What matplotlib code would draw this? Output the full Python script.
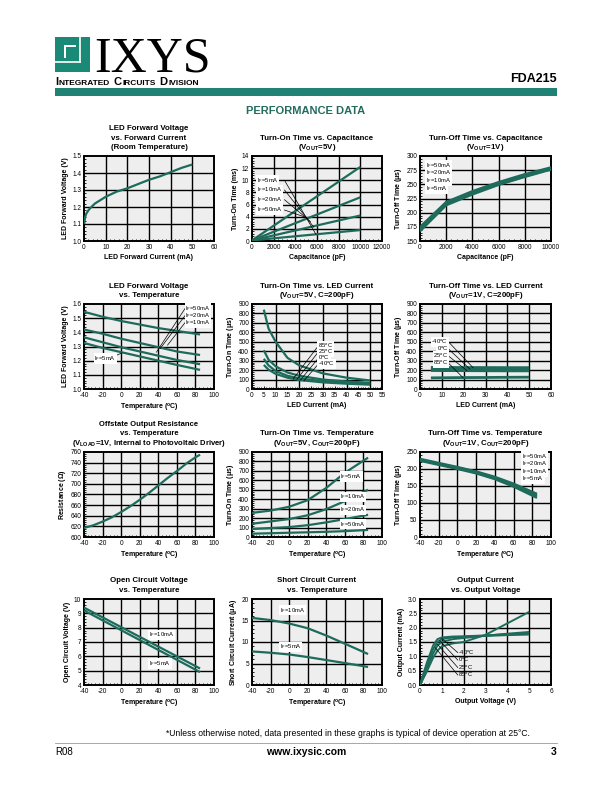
import numpy as np
import matplotlib
matplotlib.use('Agg')
import matplotlib.pyplot as plt
from matplotlib.patches import Rectangle
from matplotlib.ticker import AutoMinorLocator

plt.rcParams['font.family'] = ['Liberation Sans Narrow', 'Liberation Sans', 'DejaVu Sans']
plt.rcParams['mathtext.default'] = 'regular'
plt.rcParams['axes.unicode_minus'] = False

TEAL = '#1E6B5C'
BG = '#EEEEEE'

# --- data ---
# LED forward voltage vs forward current
vf_current = [0.1, 0.5, 1, 2, 3, 5, 10, 15, 20, 25, 30, 35, 40, 45, 50]
vf_volts = [1.10, 1.14, 1.16, 1.18, 1.195, 1.22, 1.26, 1.29, 1.31, 1.335, 1.36, 1.38, 1.405, 1.43, 1.45]

# turn-on time vs capacitance (ms)
ton_cap = [0, 10000]
ton_cap_5ma = [0.1, 12.2]
ton_cap_10ma = [0.1, 7.2]
ton_cap_20ma = [0.1, 4.2]
ton_cap_50ma = [0.1, 1.8]

# turn-off time vs capacitance (us)
toff_cap = [0, 1000, 2000, 4000, 6000, 8000, 10000]
toff_cap_50ma = [175, 197, 219, 238, 254, 268, 280]
toff_cap_20ma = [172, 195, 217, 236, 252, 266, 278]
toff_cap_10ma = [170, 193, 215, 234, 250, 264, 277]
toff_cap_5ma = [167, 190, 213, 232, 249, 263, 276]

# LED forward voltage vs temperature
temp = [-40, -20, 0, 20, 40, 60, 85]
vft_50ma = [1.545, 1.51, 1.48, 1.455, 1.43, 1.41, 1.385]
vft_20ma = [1.42, 1.39, 1.355, 1.325, 1.295, 1.265, 1.24]
vft_10ma = [1.365, 1.33, 1.295, 1.265, 1.235, 1.205, 1.175]
vft_5ma = [1.325, 1.29, 1.26, 1.23, 1.2, 1.17, 1.135]

# turn-on time vs LED current (us)
led_i = [5, 7, 10, 15, 20, 30, 40, 50]
ton_i_85c = [840, 640, 500, 330, 250, 165, 120, 90]
ton_i_25c = [410, 310, 240, 175, 140, 100, 80, 65]
ton_i_0c = [320, 250, 190, 140, 112, 82, 66, 55]
ton_i_m40c = [255, 205, 160, 120, 95, 70, 56, 46]

# turn-off time vs LED current (us)
led_i2 = [5, 10, 20, 30, 40, 50]
toff_i_m40c = [228, 228, 227, 227, 226, 226]
toff_i_0c = [210, 209, 208, 207, 206, 205]
toff_i_25c = [196, 195, 194, 193, 192, 192]
toff_i_85c = [118, 119, 121, 122, 124, 125]

# offstate output resistance vs temperature (ohm)
res_temp = [-40, -30, -20, -10, 0, 10, 20, 30, 40, 50, 60, 70, 80, 85]
res_ohm = [617, 622, 629, 637, 647, 658, 670, 683, 697, 711, 724, 738, 750, 755]

# turn-on time vs temperature (us)
ton_t_5ma = [255, 280, 320, 390, 520, 680, 840]
ton_t_10ma = [140, 165, 190, 230, 295, 380, 500]
ton_t_20ma = [85, 95, 105, 125, 155, 190, 235]
ton_t_50ma = [35, 40, 45, 50, 55, 62, 75]

# turn-off time vs temperature (us)
toff_t_50ma = [230, 218, 206, 193, 177, 157, 127]
toff_t_20ma = [228, 216, 204, 191, 175, 154, 123]
toff_t_10ma = [226, 214, 202, 189, 172, 151, 119]
toff_t_5ma = [224, 212, 200, 187, 170, 148, 115]

# open circuit voltage vs temperature (V)
voc_temp = [-40, 85]
voc_10ma = [9.4, 5.15]
voc_5ma = [9.2, 4.9]

# short circuit current vs temperature (uA)
isc_10ma = [15.6, 15.1, 14.3, 13.2, 11.5, 9.6, 7.2]
isc_5ma = [7.8, 7.5, 7.1, 6.5, 5.8, 5.1, 4.2]

# output current vs output voltage (mA)
vout = [0, 0.3, 0.6, 0.8, 1.0, 1.5, 2, 3, 4, 5]
iout_m40c = [0, 0.75, 1.38, 1.6, 1.66, 1.69, 1.7, 1.73, 1.77, 1.8]
iout_0c = [0, 0.65, 1.25, 1.5, 1.6, 1.66, 1.68, 1.71, 1.74, 1.76]
iout_25c = [0, 0.55, 1.1, 1.38, 1.5, 1.6, 1.64, 1.72, 1.79, 1.85]
iout_85c = [0, 0.45, 0.95, 1.2, 1.35, 1.45, 1.5, 1.75, 2.15, 2.55]

fig = plt.figure(figsize=(6.12, 7.92), dpi=100)
PX = 0.72  # points per pixel at 100 dpi


def px_axes(x0, y0, x1, y1):
    return fig.add_axes([x0 / 612, 1 - y1 / 792, (x1 - x0) / 612, (y1 - y0) / 792])


def style(ax, xlim, ylim, xticks, yticks, xgrid, ygrid, xlabel, ylabel, title, yfmt=None, tsize=5.7):
    ax.set_facecolor(BG)
    ax.set_xlim(xlim)
    ax.set_ylim(ylim)
    ax.set_xticks(xticks)
    ax.set_yticks(yticks)
    if yfmt:
        ax.set_yticklabels([yfmt.format(v) for v in yticks])
    for g in xgrid:
        ax.axvline(g, color='k', lw=1.0, zorder=1)
    for g in ygrid:
        ax.axhline(g, color='k', lw=1.0, zorder=1)
    ax.xaxis.set_minor_locator(AutoMinorLocator(5))
    ax.yaxis.set_minor_locator(AutoMinorLocator(5))
    ax.tick_params(which='both', direction='in', labelsize=4.7, pad=2, width=0.6)
    ax.tick_params(which='major', length=2)
    ax.tick_params(which='minor', length=1.2)
    for s in ax.spines.values():
        s.set_linewidth(1.4)
    ax.set_xlabel(xlabel, fontsize=5, fontweight='bold', labelpad=2)
    ax.set_ylabel(ylabel, fontsize=5, fontweight='bold', labelpad=2)
    # title lines stacked upward from the axes top, fixed pitch
    for k, line in enumerate(reversed(title)):
        ax.annotate(line, xy=(0.5, 1), xycoords='axes fraction',
                    xytext=(0, (8.5 + 9.5 * k) * PX), textcoords='offset points',
                    ha='center', va='center', fontsize=tsize, fontweight='bold')


def curve(ax, x, y, lw=1.6):
    ax.plot(x, y, color=TEAL, lw=lw, zorder=3, solid_capstyle='butt')


def lbl(ax, x, y, s, ha='left', box=False):
    kw = dict(fontsize=4.2, ha=ha, va='center', zorder=5)
    if box:
        kw['bbox'] = dict(facecolor='white', edgecolor='none', pad=0.5)
    ax.text(x, y, s, **kw)


def leader(ax, p0, p1):
    ax.plot([p0[0], p1[0]], [p0[1], p1[1]], color='k', lw=0.5, zorder=4)


IF = r'I$_F$='
COLS = [(84, 214), (252, 382), (420, 551)]
ROWS = [(156, 241), (304, 389), (452, 537), (599, 685)]

# ---------- row 1 ----------
ax = px_axes(COLS[0][0], ROWS[0][0], COLS[0][1], ROWS[0][1])
style(ax, (0, 60), (1.0, 1.5), range(0, 61, 10), np.arange(1.0, 1.51, 0.1),
      range(10, 60, 10), np.arange(1.1, 1.45, 0.1),
      'LED Forward Current (mA)', 'LED Forward Voltage (V)',
      ['LED Forward Voltage', 'vs. Forward Current', '(Room Temperature)'], yfmt='{:.1f}')
curve(ax, vf_current, vf_volts)

ax = px_axes(COLS[1][0], ROWS[0][0], COLS[1][1], ROWS[0][1])
style(ax, (0, 12000), (0, 14), range(0, 12001, 2000), range(0, 15, 2),
      range(2000, 12000, 2000), range(2, 14, 2),
      'Capacitance (pF)', 'Turn-On Time (ms)',
      ['Turn-On Time vs. Capacitance', r'(V$_{OUT}$=5V)'])
for yv in (ton_cap_5ma, ton_cap_10ma, ton_cap_20ma, ton_cap_50ma):
    curve(ax, ton_cap, yv)
for i, (s, yl) in enumerate(zip(['5mA', '10mA', '20mA', '50mA'], [10.0, 8.4, 6.8, 5.1])):
    lbl(ax, 450, yl, IF + s, box=True)
    leader(ax, (3000, yl), [(5900, 1.1), (5700, 2.3), (5400, 3.2), (4800, 4.0)][i])

ax = px_axes(COLS[2][0], ROWS[0][0], COLS[2][1], ROWS[0][1])
style(ax, (0, 10000), (150, 300), range(0, 10001, 2000), range(150, 301, 25),
      range(2000, 10000, 2000), range(175, 300, 25),
      'Capacitance (pF)', r'Turn-Off Time ($\mu$s)',
      ['Turn-Off Time vs. Capacitance', r'(V$_{OUT}$=1V)'])
for yv in (toff_cap_50ma, toff_cap_20ma, toff_cap_10ma, toff_cap_5ma):
    curve(ax, toff_cap, yv)
for s, yl in zip(['50mA', '20mA', '10mA', '5mA'], [284, 270, 256, 242]):
    lbl(ax, 450, yl, IF + s, box=True)

# ---------- row 2 ----------
ax = px_axes(COLS[0][0], ROWS[1][0], COLS[0][1], ROWS[1][1])
style(ax, (-40, 100), (1.0, 1.6), range(-40, 101, 20), np.arange(1.0, 1.61, 0.1),
      range(-20, 100, 20), np.arange(1.1, 1.55, 0.1),
      r'Temperature ($^o$C)', 'LED Forward Voltage (V)',
      ['LED Forward Voltage', 'vs. Temperature'], yfmt='{:.1f}')
for yv in (vft_50ma, vft_20ma, vft_10ma, vft_5ma):
    curve(ax, temp, yv)
for s, yl, end in zip(['50mA', '20mA', '10mA'], [1.57, 1.52, 1.47],
                      [(38, 1.26), (42, 1.285), (50, 1.31)]):
    lbl(ax, 69, yl, IF + s, box=True)
    leader(ax, (69, yl), end)
lbl(ax, -29, 1.215, IF + '5mA', box=True)
leader(ax, (-13, 1.215), (1, 1.255))

ax = px_axes(COLS[1][0], ROWS[1][0], COLS[1][1], ROWS[1][1])
style(ax, (0, 55), (0, 900), range(0, 56, 5), range(0, 901, 100),
      range(10, 55, 10), range(100, 900, 100),
      'LED Current (mA)', r'Turn-On Time ($\mu$s)',
      ['Turn-On Time vs. LED Current', r'(V$_{OUT}$=5V, C=200pF)'])
for yv in (ton_i_85c, ton_i_25c, ton_i_0c, ton_i_m40c):
    curve(ax, led_i, yv)
for s, yl, end in zip([r'85$^o$C', r'25$^o$C', r'0$^o$C', r'-40$^o$C'], [455, 390, 325, 262],
                      [(17.5, 110), (19, 102), (20.5, 95), (22, 88)]):
    lbl(ax, 28, yl, s, box=True)
    leader(ax, (28, yl), end)

ax = px_axes(COLS[2][0], ROWS[1][0], COLS[2][1], ROWS[1][1])
style(ax, (0, 60), (0, 900), range(0, 61, 10), range(0, 901, 100),
      range(10, 60, 10), range(100, 900, 100),
      'LED Current (mA)', r'Turn-Off Time ($\mu$s)',
      ['Turn-Off Time vs. LED Current', r'(V$_{OUT}$=1V, C=200pF)'])
for yv in (toff_i_m40c, toff_i_0c, toff_i_25c, toff_i_85c):
    curve(ax, led_i2, yv, lw=2.0)
for s, yl, end in zip([r'-40$^o$C', r'0$^o$C', r'25$^o$C', r'85$^o$C'], [500, 425, 350, 275],
                      [(24.3, 226), (22.9, 210), (21.5, 195), (19.7, 120)]):
    lbl(ax, 13, yl, s, ha='right', box=True)
    leader(ax, (13, yl), end)

# ---------- row 3 ----------
ax = px_axes(COLS[0][0], ROWS[2][0], COLS[0][1], ROWS[2][1])
style(ax, (-40, 100), (600, 760), range(-40, 101, 20), range(600, 761, 20),
      range(-20, 100, 20), range(620, 760, 20),
      r'Temperature ($^o$C)', r'Resistance ($\Omega$)',
      ['Offstate Output Resistance', 'vs. Temperature',
       r'(V$_{LOAD}$=1V, Internal to Photovoltaic Driver)'], tsize=5.5)
curve(ax, res_temp, res_ohm)

ax = px_axes(COLS[1][0], ROWS[2][0], COLS[1][1], ROWS[2][1])
style(ax, (-40, 100), (0, 900), range(-40, 101, 20), range(0, 901, 100),
      range(-20, 100, 20), range(100, 900, 100),
      r'Temperature ($^o$C)', r'Turn-On Time ($\mu$s)',
      ['Turn-On Time vs. Temperature', r'(V$_{OUT}$=5V, C$_{OUT}$=200pF)'])
for yv in (ton_t_5ma, ton_t_10ma, ton_t_20ma, ton_t_50ma):
    curve(ax, temp, yv)
for s, yl in zip(['5mA', '10mA', '20mA', '50mA'], [640, 427, 286, 134]):
    lbl(ax, 55, yl, IF + s, box=True)

ax = px_axes(COLS[2][0], ROWS[2][0], COLS[2][1], ROWS[2][1])
style(ax, (-40, 100), (0, 250), range(-40, 101, 20), range(0, 251, 50),
      range(-20, 100, 20), range(50, 250, 50),
      r'Temperature ($^o$C)', r'Turn-Off Time ($\mu$s)',
      ['Turn-Off Time vs. Temperature', r'(V$_{OUT}$=1V, C$_{OUT}$=200pF)'])
for yv in (toff_t_50ma, toff_t_20ma, toff_t_10ma, toff_t_5ma):
    curve(ax, temp, yv)
for s, yl in zip(['50mA', '20mA', '10mA', '5mA'], [237, 215, 193, 171]):
    lbl(ax, 69, yl, IF + s, box=True)

# ---------- row 4 ----------
ax = px_axes(COLS[0][0], ROWS[3][0], COLS[0][1], ROWS[3][1])
style(ax, (-40, 100), (4, 10), range(-40, 101, 20), range(4, 11, 1),
      range(-20, 100, 20), range(5, 10, 1),
      r'Temperature ($^o$C)', 'Open Circuit Voltage (V)',
      ['Open Circuit Voltage', 'vs. Temperature'])
curve(ax, voc_temp, voc_10ma)
curve(ax, voc_temp, voc_5ma)
lbl(ax, 30, 7.5, IF + '10mA', box=True)
lbl(ax, 30, 5.5, IF + '5mA', box=True)

ax = px_axes(COLS[1][0], ROWS[3][0], COLS[1][1], ROWS[3][1])
style(ax, (-40, 100), (0, 20), range(-40, 101, 20), range(0, 21, 5),
      range(-20, 100, 20), range(5, 20, 5),
      r'Temperature ($^o$C)', r'Short Circuit Current ($\mu$A)',
      ['Short Circuit Current', 'vs. Temperature'])
curve(ax, temp, isc_10ma)
curve(ax, temp, isc_5ma)
lbl(ax, -10, 17.4, IF + '10mA', box=True)
lbl(ax, -10, 8.9, IF + '5mA', box=True)

ax = px_axes(COLS[2][0], ROWS[3][0], COLS[2][1], ROWS[3][1])
style(ax, (0, 6), (0, 3.0), range(0, 7), np.arange(0, 3.01, 0.5),
      range(1, 6), np.arange(0.5, 2.9, 0.5),
      'Output Voltage (V)', 'Output Current (mA)',
      ['Output Current', 'vs. Output Voltage'], yfmt='{:.1f}')
for yv in (iout_m40c, iout_0c, iout_25c, iout_85c):
    curve(ax, vout, yv, lw=1.4)
for s, yl, end in zip([r'-40$^o$C', r'0$^o$C', r'25$^o$C', r'85$^o$C'], [1.13, 0.87, 0.61, 0.35],
                      [(1.0, 1.62), (0.9, 1.55), (0.8, 1.42), (0.7, 1.3)]):
    lbl(ax, 1.75, yl, s)
    leader(ax, (1.73, yl), end)

# ---------- page furniture ----------
page = fig.add_axes([0, 0, 1, 1], zorder=-1)
page.set_xlim(0, 612)
page.set_ylim(792, 0)
page.axis('off')

# logo
LOGO = '#1A8A76'
page.add_patch(Rectangle((55, 37), 35, 35, color=LOGO, lw=0))
page.plot([80, 80], [37, 62], color='white', lw=1.2)
page.plot([55, 80], [62, 62], color='white', lw=1.2)
page.add_patch(Rectangle((64, 45), 12, 13, color='white', lw=0))
page.add_patch(Rectangle((66, 47), 10, 11, color=LOGO, lw=0))
page.text(94, 72, 'IXYS', fontsize=36, family='Liberation Serif', va='baseline', ha='left')

# small-caps division name, chained piece by piece
renderer = fig.canvas.get_renderer()
xpos = 55
for piece, big in [('I', True), ('NTEGRATED', False), ('C', True), ('IRCUITS', False),
                   ('D', True), ('IVISION', False)]:
    t = page.text(xpos, 85, piece, fontsize=8 if big else 6, fontweight='bold',
                  family='Liberation Sans', va='baseline', ha='left')
    bb = t.get_window_extent(renderer)
    xpos += bb.width + (0.8 if big else 3.5)

page.text(557, 82, 'FDA215', fontsize=9, fontweight='bold', ha='right', va='baseline')
page.add_patch(Rectangle((55, 88), 502, 8, color='#1F8274', lw=0))
page.text(306, 111, 'PERFORMANCE DATA', fontsize=8, fontweight='bold', ha='center', va='center',
          color='#236B5E')

# footer
page.text(348, 733, '*Unless otherwise noted, data presented in these graphs is typical of device operation at 25\u00b0C.',
          fontsize=6.2, ha='center', va='center')
page.plot([55, 557], [743, 743], color='#999999', lw=0.6)
page.text(55, 752, 'R08', fontsize=7, ha='left', va='center')
page.text(306, 752, 'www.ixysic.com', fontsize=7.5, fontweight='bold', ha='center', va='center')
page.text(557, 752, '3', fontsize=7.5, fontweight='bold', ha='right', va='center')

fig.savefig('out.png', dpi=100)
